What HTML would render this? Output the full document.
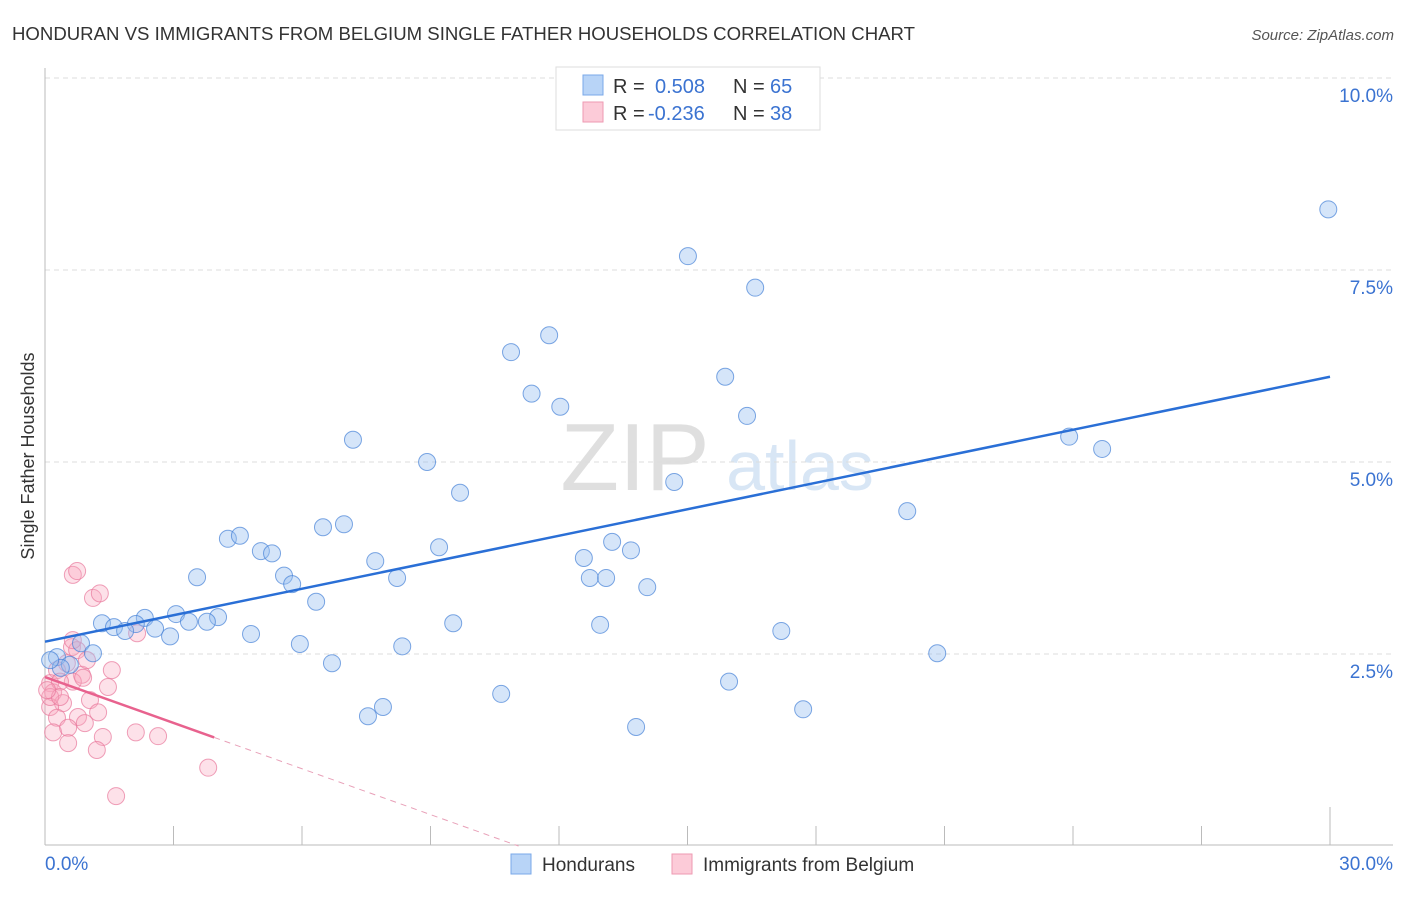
<!DOCTYPE html>
<html><head><meta charset="utf-8">
<style>
body{margin:0;background:#fff;font-family:"Liberation Sans",sans-serif;}
svg text{font-family:"Liberation Sans",sans-serif;}
</style></head>
<body>
<svg id="chart" width="1406" height="892" viewBox="0 0 1406 892" xmlns="http://www.w3.org/2000/svg">
<text x="12" y="40" font-size="18" fill="#333" textLength="903" lengthAdjust="spacingAndGlyphs">HONDURAN VS IMMIGRANTS FROM BELGIUM SINGLE FATHER HOUSEHOLDS CORRELATION CHART</text>
<text x="1394" y="40" font-size="15" fill="#555" text-anchor="end" font-style="italic">Source: ZipAtlas.com</text>
<text transform="translate(34,456) rotate(-90)" font-size="18" fill="#333" text-anchor="middle">Single Father Households</text>
<g>
<text x="635" y="490" font-size="96" fill="#d8d8d8" font-family="Liberation Serif" text-anchor="middle" opacity="0.8">ZIP</text>
<text x="800" y="490" font-size="70" fill="#cfe0f3" text-anchor="middle" opacity="0.8">atlas</text>
</g>
<g id="grid"></g><g id="axes"></g><g id="pink"></g><g id="blue"></g><g id="lines"></g>
<g>
<rect x="556" y="67" width="264" height="63" fill="#fff" stroke="#ddd"/>
<rect x="583" y="75" width="20" height="20" fill="#b8d4f7" stroke="#7aa8e8"/>
<text x="613" y="93" font-size="20" fill="#333">R = </text><text x="655" y="93" font-size="20" fill="#3b73d1">0.508</text>
<text x="733" y="93" font-size="20" fill="#333">N = </text><text x="770" y="93" font-size="20" fill="#3b73d1">65</text>
<rect x="583" y="102" width="20" height="20" fill="#fccbd8" stroke="#ee9ab2"/>
<text x="613" y="120" font-size="20" fill="#333">R = </text><text x="648" y="120" font-size="20" fill="#3b73d1">-0.236</text>
<text x="733" y="120" font-size="20" fill="#333">N = </text><text x="770" y="120" font-size="20" fill="#3b73d1">38</text>
</g>
<g>
<rect x="511" y="854" width="20" height="20" fill="#b8d4f7" stroke="#7aa8e8"/>
<text x="542" y="871" font-size="19" fill="#333">Hondurans</text>
<rect x="672" y="854" width="20" height="20" fill="#fccbd8" stroke="#ee9ab2"/>
<text x="703" y="871" font-size="19" fill="#333">Immigrants from Belgium</text>
</g>
</svg>
<script>
const yTicks=[2.5,5.0,7.5,10.0];
const yTickLabels=["2.5%","5.0%","7.5%","10.0%"];
const xTicks=[0,3,6,9,12,15,18,21,24,27,30];
const blueX=[29.96,15.01,16.58,11.77,10.88,11.36,12.03,15.88,16.39,23.91,24.68,7.19,8.92,9.69,14.69,20.13,6.49,6.98,4.27,4.55,5.04,5.30,9.20,13.24,13.68,12.58,7.71,3.55,5.58,5.77,8.22,12.72,13.10,14.06,6.33,3.06,2.33,4.04,1.33,3.36,3.78,9.53,1.61,2.12,1.87,2.57,2.92,4.81,12.96,17.19,5.95,8.34,6.70,20.83,0.84,1.12,0.28,0.58,0.37,0.12,10.65,15.97,7.89,7.54,17.70,13.80];
const blueY=[8.29,7.68,7.27,6.65,6.43,5.89,5.72,6.11,5.60,5.33,5.17,5.29,5.00,4.60,4.74,4.36,4.15,4.19,4.00,4.04,3.84,3.81,3.89,3.96,3.85,3.75,3.71,3.50,3.52,3.41,3.49,3.49,3.49,3.37,3.18,3.02,2.97,2.98,2.90,2.92,2.92,2.90,2.85,2.89,2.80,2.83,2.73,2.76,2.88,2.80,2.63,2.60,2.38,2.51,2.64,2.51,2.46,2.36,2.32,2.42,1.98,2.14,1.81,1.69,1.78,1.55];
const pinkX=[0.65,0.75,1.12,1.28,2.15,0.63,0.75,1.56,1.47,0.86,0.51,0.28,0.12,0.19,0.42,0.12,0.28,0.77,1.05,1.24,0.93,0.19,0.54,0.54,1.35,1.21,2.12,2.64,3.81,1.66,0.65,0.89,0.35,0.12,0.35,0.05,0.65,0.98];
const pinkY=[3.53,3.58,3.23,3.29,2.77,2.59,2.55,2.29,2.07,2.23,2.38,2.29,2.12,2.00,1.86,1.81,1.67,1.68,1.90,1.74,1.60,1.48,1.54,1.34,1.42,1.25,1.48,1.43,1.02,0.65,2.14,2.19,2.14,1.94,1.94,2.03,2.68,2.42];
const blueTrend=[2.66,6.11];
const pinkTrend=[2.20,-0.199,3.95];

const NS="http://www.w3.org/2000/svg";
const X=v=>45+v/30*1285;
const Y=v=>846-v*76.8;
function mk(tag,attrs,parent){const e=document.createElementNS(NS,tag);for(const k in attrs)e.setAttribute(k,attrs[k]);document.getElementById(parent).appendChild(e);return e;}

yTicks.forEach((t,i)=>{
  const l=mk('line',{x1:45,x2:1393,y1:Y(t),y2:Y(t),stroke:'#ddd','stroke-dasharray':'5,4'},'grid');
  
  
  const tx=mk('text',{x:1393,y:Y(t)+24,'font-size':19,fill:'#3b73d1','text-anchor':'end'},'grid');
  tx.textContent=yTickLabels[i];
  
  
});
let a=mk('line',{x1:45,x2:45,y1:68,y2:845,stroke:'#bbb'},'axes');


a=mk('line',{x1:45,x2:1393,y1:845,y2:845,stroke:'#bbb'},'axes');


xTicks.forEach((t,i)=>{
  if(i===0)return;
  const l=mk('line',{x1:X(t),x2:X(t),y1:(i===10?807:826),y2:845,stroke:'#bbb'},'axes');
  
  
});
let tl=mk('text',{x:45,y:870,'font-size':19,fill:'#3b73d1'},'axes');tl.textContent='0.0%';


tl=mk('text',{x:1393,y:870,'font-size':19,fill:'#3b73d1','text-anchor':'end'},'axes');tl.textContent='30.0%';



pinkX.forEach((x,i)=>{
  const c=mk('circle',{cx:X(x),cy:Y(pinkY[i]),r:8.5,fill:'rgba(248,168,192,0.35)',stroke:'rgba(232,120,155,0.7)','stroke-width':1},'pink');
  
  
});
blueX.forEach((x,i)=>{
  const c=mk('circle',{cx:X(x),cy:Y(blueY[i]),r:8.5,fill:'rgba(150,190,240,0.4)',stroke:'rgba(70,130,215,0.7)','stroke-width':1},'blue');
  
  
});
let ln=mk('line',{x1:X(0),y1:Y(blueTrend[0]),x2:X(30),y2:Y(blueTrend[1]),stroke:'#2a6fd6','stroke-width':2.5},'lines');


const pe=pinkTrend[2], pz=-pinkTrend[0]/pinkTrend[1];
ln=mk('line',{x1:X(0),y1:Y(pinkTrend[0]),x2:X(pe),y2:Y(pinkTrend[0]+pinkTrend[1]*pe),stroke:'#e8628e','stroke-width':2.5},'lines');


ln=mk('line',{x1:X(pe),y1:Y(pinkTrend[0]+pinkTrend[1]*pe),x2:X(pz),y2:Y(0),stroke:'#e8a0b8','stroke-width':1,'stroke-dasharray':'6,5'},'lines');


</script>
</body></html>
